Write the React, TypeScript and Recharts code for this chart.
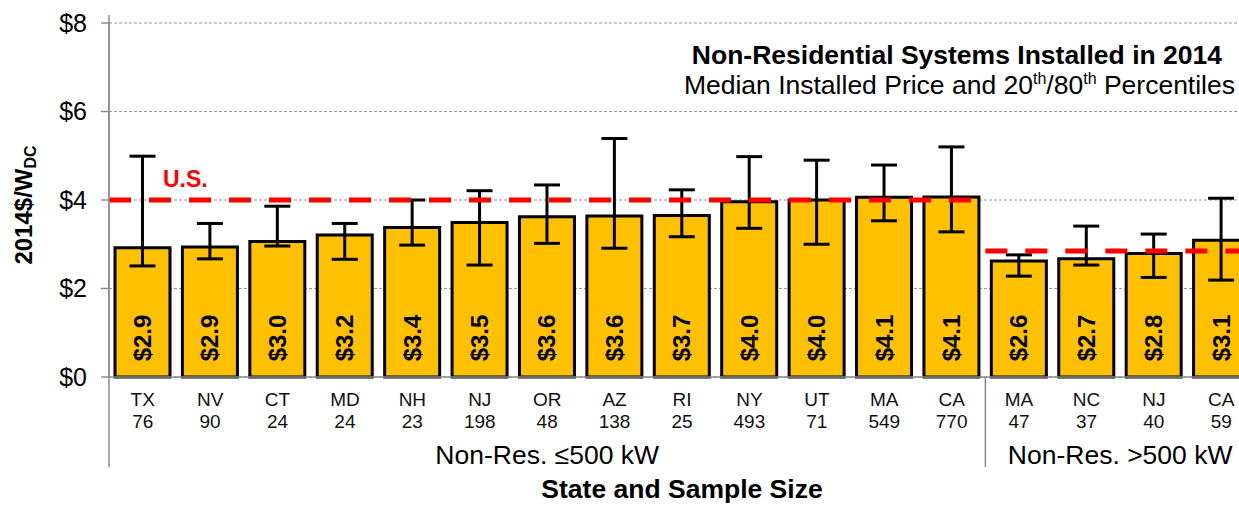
import React from "react";
import {
  ComposedChart,
  Bar,
  XAxis,
  YAxis,
  CartesianGrid,
  ErrorBar,
  LabelList,
  ReferenceLine,
} from "recharts";

const states = ["TX", "NV", "CT", "MD", "NH", "NJ", "OR", "AZ", "RI", "NY", "UT", "MA", "CA", "MA", "NC", "NJ", "CA"];
const counts = [76, 90, 24, 24, 23, 198, 48, 138, 25, 493, 71, 549, 770, 47, 37, 40, 59];
const medians = [2.92, 2.94, 3.06, 3.21, 3.38, 3.49, 3.62, 3.64, 3.65, 3.96, 4.0, 4.06, 4.07, 2.62, 2.67, 2.79, 3.09];
const medianLabels = ["$2.9", "$2.9", "$3.0", "$3.2", "$3.4", "$3.5", "$3.6", "$3.6", "$3.7", "$4.0", "$4.0", "$4.1", "$4.1", "$2.6", "$2.7", "$2.8", "$3.1"];
const p20 = [2.51, 2.67, 2.96, 2.66, 2.98, 2.53, 3.02, 2.91, 3.17, 3.36, 3.0, 3.53, 3.28, 2.28, 2.53, 2.25, 2.19];
const p80 = [4.99, 3.47, 3.86, 3.47, 4.0, 4.21, 4.34, 5.39, 4.23, 4.98, 4.9, 4.79, 5.2, 2.76, 3.41, 3.23, 4.04];
const yTicks = [0, 2, 4, 6, 8];

// two size groups, each with its own U.S. median line
const groupLabels = ["Non-Res. \u2264500 kW", "Non-Res. >500 kW"];
const groupStart = [0, 13];
const groupEnd = [13, 17];
const usMedian = [4.0, 2.85];

const data = states.map((s, i) => ({
  pos: i + 0.5,
  state: s,
  count: counts[i],
  value: medians[i],
  label: medianLabels[i],
  err: [medians[i] - p20[i], p80[i] - medians[i]],
}));

const FONT = "Arial, 'Liberation Sans', Helvetica, sans-serif";
const CHART_W = 1262;
const CHART_H = 512;
const PLOT_LEFT = 109;
const PLOT_RIGHT = 1255;
const PLOT_TOP = 23;
const PLOT_BOTTOM = 377;
const BAND = (PLOT_RIGHT - PLOT_LEFT) / states.length;

const StateTick = (props: any) => {
  const { x, y, payload } = props;
  const i = Math.floor(payload.value);
  return (
    <g>
      <text x={x} y={y + 29} textAnchor="middle" fontSize={19} fontFamily={FONT} fill="#111">
        {states[i]}
      </text>
      <text x={x} y={y + 51} textAnchor="middle" fontSize={19} fontFamily={FONT} fill="#111">
        {counts[i]}
      </text>
    </g>
  );
};

const BarText = (props: any) => {
  const { x, y, width, height, value } = props;
  const cx = x + width / 2;
  const cy = y + height - 39;
  return (
    <text
      x={cx}
      y={cy}
      transform={`rotate(-90 ${cx} ${cy})`}
      textAnchor="middle"
      dominantBaseline="central"
      fontSize={24}
      fontWeight="bold"
      fontFamily={FONT}
      fill="#000"
    >
      {value}
    </text>
  );
};

export default function App() {
  return (
    <div
      style={{
        position: "absolute",
        left: 0,
        top: 0,
        width: 1239,
        height: 512,
        overflow: "hidden",
        background: "#fff",
        fontFamily: FONT,
      }}
    >
      <div style={{ position: "absolute", left: 0, top: 0 }}>
        <ComposedChart
          width={CHART_W}
          height={CHART_H}
          data={data}
          margin={{ top: PLOT_TOP, right: CHART_W - PLOT_RIGHT, bottom: CHART_H - PLOT_BOTTOM - 60, left: 0 }}
        >
          <CartesianGrid vertical={false} stroke="#9a9a9a" strokeDasharray="3 2" />
          <XAxis
            type="number"
            dataKey="pos"
            domain={[0, states.length]}
            ticks={data.map((d) => d.pos)}
            height={60}
            tickLine={false}
            tickSize={0}
            tickMargin={0}
            axisLine={{ stroke: "#8c8c8c", strokeWidth: 1.5 }}
            tick={StateTick}
            interval={0}
          />
          <YAxis
            type="number"
            domain={[0, 8]}
            ticks={yTicks}
            width={PLOT_LEFT}
            tickFormatter={(v: number) => `$${v}`}
            tickSize={8}
            tickMargin={14}
            tickLine={{ stroke: "#8c8c8c", strokeWidth: 1.5 }}
            axisLine={{ stroke: "#8c8c8c", strokeWidth: 1.5 }}
            tick={{ fontSize: 25, fill: "#000", fontFamily: FONT }}
          />
          <Bar
            dataKey="value"
            barSize={55}
            fill="#FFC000"
            stroke="#000"
            strokeWidth={3}
            isAnimationActive={false}
          >
            <ErrorBar dataKey="err" width={13} strokeWidth={3} stroke="#000" direction="y" />
            <LabelList dataKey="label" content={BarText} />
          </Bar>
          {usMedian.map((m, g) => (
            <ReferenceLine
              key={g}
              segment={[
                { x: groupStart[g], y: m },
                { x: groupEnd[g], y: m },
              ]}
              stroke="#FF0000"
              strokeWidth={5}
              strokeDasharray="22 18"
            />
          ))}
        </ComposedChart>
      </div>
      <svg
        width={CHART_W}
        height={CHART_H}
        style={{ position: "absolute", left: 0, top: 0, pointerEvents: "none" }}
      >
        {/* axis extensions and group separator */}
        <line x1={PLOT_LEFT} y1={15} x2={PLOT_LEFT} y2={467} stroke="#8c8c8c" strokeWidth={1.5} />
        <line
          x1={PLOT_LEFT + groupEnd[0] * BAND}
          y1={PLOT_BOTTOM}
          x2={PLOT_LEFT + groupEnd[0] * BAND}
          y2={467}
          stroke="#8c8c8c"
          strokeWidth={1.5}
        />
        {groupLabels.map((g, i) => (
          <text
            key={g}
            x={PLOT_LEFT + ((groupStart[i] + groupEnd[i]) / 2) * BAND}
            y={464}
            textAnchor="middle"
            fontSize={26.5}
            fontFamily={FONT}
            fill="#000"
          >
            {g}
          </text>
        ))}
        <text x={682} y={498} textAnchor="middle" fontSize={26.5} fontWeight="bold" fontFamily={FONT} fill="#000">
          State and Sample Size
        </text>
        <text
          x={23}
          y={205}
          transform="rotate(-90 23 205)"
          textAnchor="middle"
          dominantBaseline="central"
          fontSize={24}
          fontWeight="bold"
          fontFamily={FONT}
          fill="#000"
        >
          2014$/W
          <tspan fontSize={16} dy={7}>DC</tspan>
        </text>
        <text x={163} y={187} fontSize={23} fontWeight="bold" fontFamily={FONT} fill="#FF0000">
          U.S.
        </text>
        <text x={1222} y={64} textAnchor="end" fontSize={26.5} fontWeight="bold" fontFamily={FONT} fill="#000">
          Non-Residential Systems Installed in 2014
        </text>
        <text x={1235} y={94} textAnchor="end" fontSize={26.5} fontFamily={FONT} fill="#000">
          Median Installed Price and 20
          <tspan fontSize={16} dy={-10}>th</tspan>
          <tspan dy={10}>/80</tspan>
          <tspan fontSize={16} dy={-10}>th</tspan>
          <tspan dy={10}> Percentiles</tspan>
        </text>
      </svg>
    </div>
  );
}
